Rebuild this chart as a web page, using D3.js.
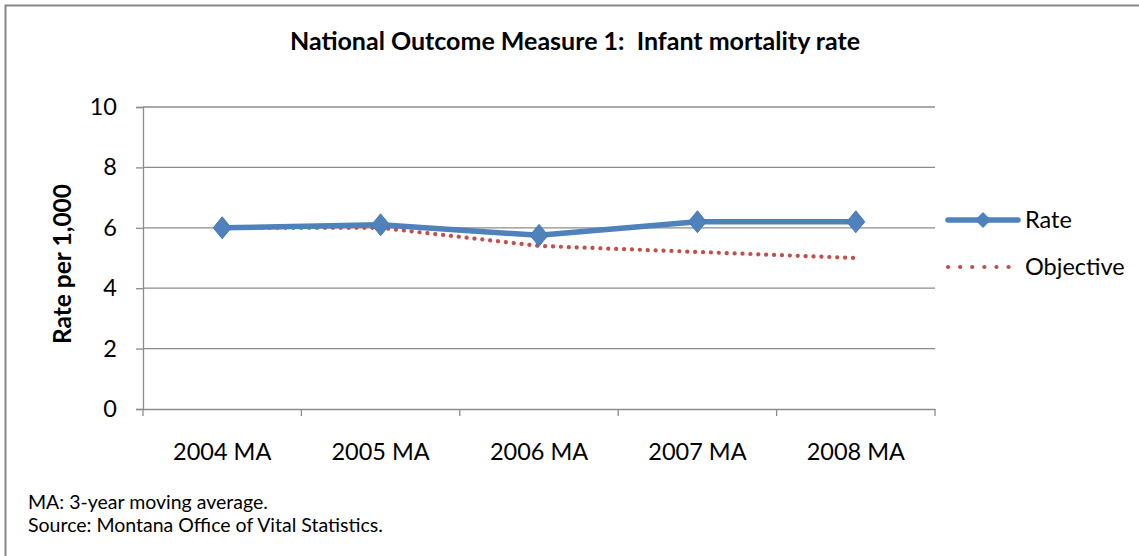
<!DOCTYPE html>
<html><head><meta charset="utf-8">
<script src="https://cdn.jsdelivr.net/npm/d3@7"></script>
<style>body{margin:0;background:#fff;}svg{display:block;font-family:Lato,"Open Sans",sans-serif;}</style>
</head><body>
<svg id="c" width="1139" height="556"></svg>
<script>
const categories = ["2004 MA","2005 MA","2006 MA","2007 MA","2008 MA"];
const rateValues = [6.0, 6.1, 5.75, 6.2, 6.2];
const objectiveValues = [6.0, 6.0, 5.4, 5.2, 5.0];
const yTicks = [0,2,4,6,8,10];

const FONT = "Lato,'Open Sans',sans-serif";
const svg = d3.select("#c");
svg.append("rect").attr("x",5.5).attr("y",5.5).attr("width",1150).attr("height",600)
  .attr("fill","#fff").attr("stroke","#878787").attr("stroke-width",2);

const L=143, R=935, T=107, B=409;
const x = d3.scaleBand().domain(categories).range([L,R]);
const y = d3.scaleLinear().domain([0,10]).range([B,T]);

// gridlines
svg.append("g").selectAll("line").data(yTicks.filter(d=>d>0)).join("line")
  .attr("x1",L).attr("x2",R).attr("y1",d=>y(d)).attr("y2",d=>y(d))
  .attr("stroke","#8c8c8c").attr("stroke-width",1.3);

const yAxis = svg.append("g").attr("transform",`translate(${L},0)`)
  .call(d3.axisLeft(y).tickValues(yTicks).tickSize(7).tickPadding(19));
const xAxis = svg.append("g").attr("transform",`translate(0,${B})`)
  .call(d3.axisBottom(x).tickSize(0).tickPadding(34));
[yAxis,xAxis].forEach(g=>{
  g.select(".domain").attr("stroke","#8c8c8c").attr("stroke-width",1.3);
  g.selectAll(".tick line").attr("stroke","#8c8c8c").attr("stroke-width",1.3);
  g.selectAll("text").attr("fill","#000").attr("font-size",23.5).attr("font-family",FONT);
});
// category boundary ticks
const bounds = categories.map(c=>x(c)).concat([R]);
svg.append("g").selectAll("line").data(bounds).join("line")
  .attr("x1",d=>d).attr("x2",d=>d).attr("y1",B).attr("y2",B+7)
  .attr("stroke","#8c8c8c").attr("stroke-width",1.3);

const cx = c => x(c)+x.bandwidth()/2;
const line = d3.line().x((d,i)=>cx(categories[i])).y(d=>y(d));

svg.append("path").datum(objectiveValues).attr("d",line).attr("fill","none")
  .attr("stroke","#c0504d").attr("stroke-width",4.2).attr("stroke-dasharray","0.1 7.8").attr("stroke-linecap","round");
svg.append("path").datum(rateValues).attr("d",line).attr("fill","none")
  .attr("stroke","#4f81bd").attr("stroke-width",5.5).attr("stroke-linejoin","round");
const diamond = "M0,-11L9,0L0,11L-9,0Z";
svg.append("g").selectAll("path").data(rateValues).join("path")
  .attr("d",diamond).attr("transform",(d,i)=>`translate(${cx(categories[i])},${y(d)})`)
  .attr("fill","#4f81bd").attr("stroke","#4a7ab5").attr("stroke-width",1);

// title
svg.append("text").attr("x",575).attr("y",50).attr("text-anchor","middle")
  .attr("font-size",25).attr("font-weight","bold").style("white-space","pre")
  .text("National Outcome Measure 1:  Infant mortality rate");
// y label
svg.append("text").attr("transform","translate(71,264) rotate(-90)").attr("text-anchor","middle")
  .attr("font-size",24.5).attr("font-weight","bold").text("Rate per 1,000");

// legend
const lg = svg.append("g");
lg.append("line").attr("x1",948).attr("x2",1018).attr("y1",220).attr("y2",220)
  .attr("stroke","#4f81bd").attr("stroke-width",5.5).attr("stroke-linecap","round");
lg.append("path").attr("d","M0,-8L8,0L0,8L-8,0Z").attr("transform","translate(983,220)").attr("fill","#4f81bd");
lg.append("text").attr("x",1025).attr("y",228).attr("font-size",23.5).text("Rate");
lg.append("line").attr("x1",948).attr("x2",1012).attr("y1",267).attr("y2",267)
  .attr("stroke","#c0504d").attr("stroke-width",4.2).attr("stroke-dasharray","0.1 12").attr("stroke-linecap","round");
lg.append("text").attr("x",1025).attr("y",275).attr("font-size",23.5).text("Objective");

// footnotes
svg.append("text").attr("x",28).attr("y",509).attr("font-size",19.5).text("MA: 3-year moving average.");
svg.append("text").attr("x",28).attr("y",532).attr("font-size",19.5).text("Source: Montana Office of Vital Statistics.");
</script>
</body></html>
